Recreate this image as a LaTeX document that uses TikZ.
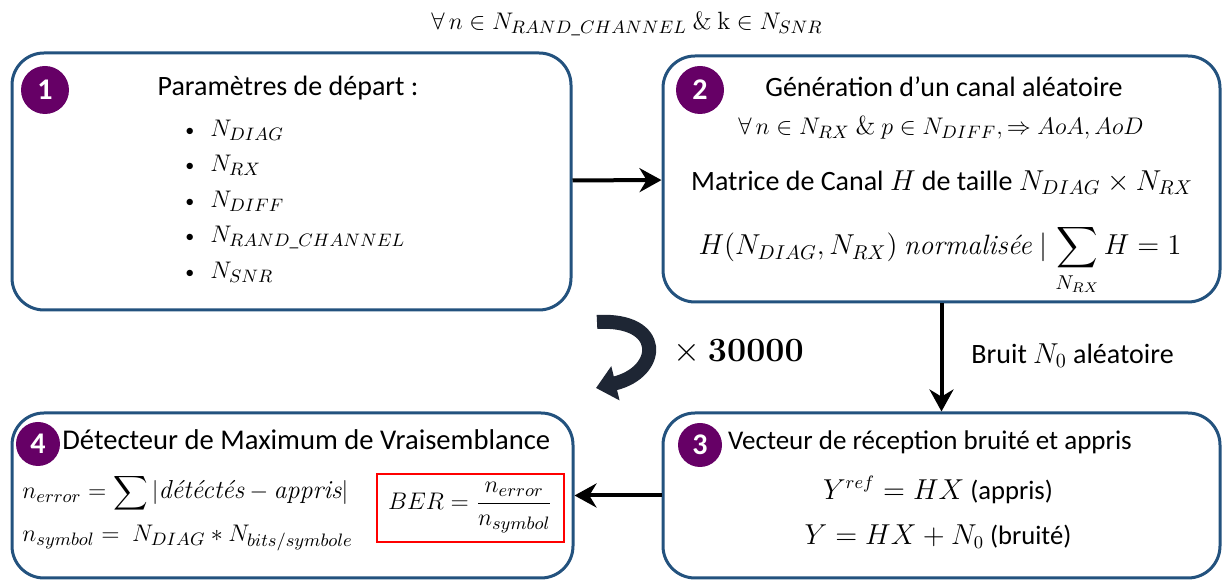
\documentclass[tikz,border=0pt]{standalone}
\usepackage{amsmath}
\usepackage{fontspec}
\setsansfont{Carlito}
\renewcommand{\familydefault}{\sfdefault}
\usetikzlibrary{arrows.meta}
\definecolor{boxblue}{RGB}{35,82,126}
\definecolor{steppurple}{RGB}{102,0,102}
\definecolor{loopnavy}{RGB}{30,38,52}
\newcommand{\mtxt}[1]{\text{\rmfamily\itshape #1}}
\newcommand{\smallbullet}{{\fontsize{9}{9}\selectfont\textbullet}\hspace{8pt}}

\begin{document}
\begin{tikzpicture}[
  x=0.5pt, y=-0.5pt,
  font=\fontsize{14}{17}\selectfont,
  every node/.style={inner sep=1pt},
  stage/.style={
    draw=boxblue, line width=1.5pt, rounded corners=16pt, inner sep=0pt
  },
  num/.style={circle, fill=steppurple, text=white, inner sep=0pt,
    minimum size=24pt, font=\fontsize{15}{15}\selectfont\bfseries},
  flow/.style={-{Stealth[length=11pt,width=12pt]}, line width=2pt},
  repeatarrow/.style={-{Triangle[length=10pt,width=17pt]}, line width=7pt, loopnavy}
]
\useasboundingbox (0,0) rectangle (1223,581);

\node[stage, minimum width=279.5pt, minimum height=128.5pt] (params) at (291.5,181.5) {};
\node[stage, minimum width=278.5pt, minimum height=123pt] (canal) at (941.5,179) {};
\node[stage, minimum width=278.5pt, minimum height=82.5pt] (reception) at (941.5,495.5) {};
\node[stage, minimum width=280.5pt, minimum height=82.5pt] (detecteur) at (292.5,495.5) {};

\node[num] (n1) at (45,90) {1};
\node[num] (n2) at (700,90) {2};
\node[num, minimum size=22pt] (n3) at (700,445) {3};
\node[num, minimum size=22pt] (n4) at (38,444) {4};

\node[font=\fontsize{12.5}{15}\selectfont] (quantif) at (627,24)
  {$\forall\, n \in N_{RAND\_CHANNEL}\ \&\ \mathrm{k} \in N_{SNR}$};

\node (paramtitle) at (288,88) {Paramètres de départ :};
\node[align=left, anchor=west, font=\fontsize{12.5}{17.75}\selectfont] (paramlist) at (183,201)
  {\smallbullet$N_{DIAG}$\\
   \smallbullet$N_{RX}$\\
   \smallbullet$N_{DIFF}$\\
   \smallbullet$N_{RAND\_CHANNEL}$\\
   \smallbullet$N_{SNR}$};

\node (canaltitle) at (944,87) {Génération d’un canal aléatoire};
\node[font=\fontsize{13}{15}\selectfont] (angles) at (941,128)
  {$\forall\, n \in N_{RX}\ \&\ p \in N_{DIFF}, \Rightarrow AoA, AoD$};
\node (taille) at (942,183) {Matrice de Canal $H$ de taille $N_{DIAG} \times N_{RX}$};
\node[anchor=base] (norme) at (940,255)
  {$H(N_{DIAG}, N_{RX})\ \mtxt{normalisée} \mid \displaystyle\sum_{N_{RX}} H = 1$};

\node[font=\fontsize{13.5}{16}\selectfont] (recepttitle) at (930,442) {Vecteur de réception bruité et appris};
\node[font=\fontsize{13.3}{16}\selectfont] (yref) at (938,490) {$Y^{ref} = HX$ (appris)};
\node[font=\fontsize{13.3}{16}\selectfont] (ybruit) at (938,537) {$Y = HX + N_0$ (bruité)};

\node[anchor=west, inner sep=0pt, font=\fontsize{14.3}{17}\selectfont] (dettitle) at (62,440) {Détecteur de Maximum de Vraisemblance};
\node[anchor=west, inner sep=0pt, font=\fontsize{13}{15}\selectfont] (nerror) at (22,493)
  {$n_{error} = \displaystyle\sum |\mtxt{détéctés} - \mtxt{appris}|$};
\node[anchor=west, font=\fontsize{12.7}{15}\selectfont] (nsymbol) at (20,538)
  {$n_{symbol} =\ N_{DIAG} * N_{bits/symbole}$};
\node[draw=red, line width=1.2pt, minimum width=93.5pt, minimum height=34pt,
  font=\fontsize{13}{15}\selectfont] (ber) at (470.5,508)
  {$BER = \dfrac{n_{error}}{n_{symbol}}$};

\node[anchor=west] (bruit) at (969,356) {Bruit $N_0$ aléatoire};
\node[anchor=west, font=\fontsize{17}{17}\selectfont] (repeats) at (671,352) {$\times$ \textbf{\rmfamily 30000}};

\coordinate (loopstart) at (597,322);
\coordinate (loopend) at (596,388);

\draw[flow] (params) -- (canal);
\draw[flow] (canal) -- (reception);
\draw[flow] (reception) -- (detecteur);
\draw[repeatarrow] (loopstart) .. controls (665,318) and (662,372) .. (loopend);
\end{tikzpicture}
\end{document}
